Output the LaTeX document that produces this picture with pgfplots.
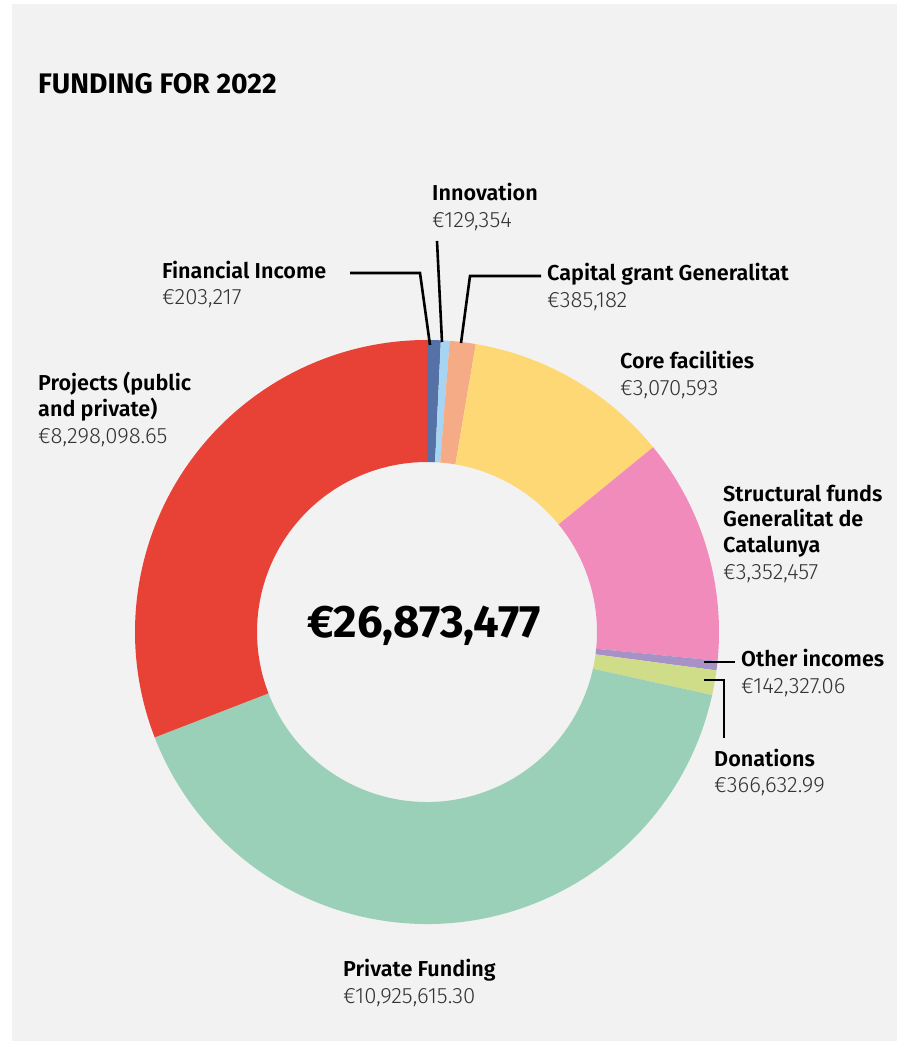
\documentclass[border=0pt,tikz]{standalone}
\usepackage{pgfplots}
\usepackage{pgfplotstable}
\pgfplotsset{compat=1.18}
\usepackage{fontspec}
\setmainfont{Fira Sans}
\newfontfamily\lightfont{Fira Sans Light}
\newfontfamily\semifont{Fira Sans SemiBold}

\definecolor{panel}{HTML}{F1F2F1}
\definecolor{c0}{HTML}{5571A5}% Financial Income
\definecolor{c1}{HTML}{A6D5F3}% Innovation
\definecolor{c2}{HTML}{F5AB85}% Capital grant
\definecolor{c3}{HTML}{FED874}% Core facilities
\definecolor{c4}{HTML}{F18BBB}% Structural funds
\definecolor{c5}{HTML}{A792C8}% Other incomes
\definecolor{c6}{HTML}{D0DD88}% Donations
\definecolor{c7}{HTML}{9BD0B8}% Private Funding
\definecolor{c8}{HTML}{E84237}% Projects

% slices clockwise from 12 o'clock
\pgfplotstableread[col sep=comma]{
source,value
Financial Income,203217
Innovation,129354
Capital grant Generalitat,385182
Core facilities,3070593
Structural funds,3352457
Other incomes,142327.06
Donations,366632.99
Private Funding,10925615.30
Projects,8298098.65
}\funding

% total and start/end angle of every slice
\gdef\total{0}%
\foreach \i in {0,...,8}{%
  \pgfplotstablegetelem{\i}{value}\of\funding
  \xdef\total{\fpeval{\total+\pgfplotsretval}}}%
\gdef\acc{90}%
\foreach \i in {0,...,8}{%
  \pgfplotstablegetelem{\i}{value}\of\funding
  \expandafter\xdef\csname as\i\endcsname{\acc}%
  \xdef\acc{\fpeval{\acc-360*\pgfplotsretval/\total}}%
  \expandafter\xdef\csname ae\i\endcsname{\acc}}%

\tikzset{
  lab/.style={anchor=base west, inner sep=0pt, text=black,
    font=\semifont\fontsize{21.6}{24}\selectfont},
  val/.style={anchor=base west, inner sep=0pt, text=black!80,
    font=\lightfont\fontsize{22.2}{24}\selectfont},
  lead/.style={line width=2.6pt, black}
}

\begin{document}%
\begin{tikzpicture}
\begin{axis}[x=1pt, y=1pt, xmin=0, xmax=896, ymin=-1043, ymax=0,
  scale only axis, hide axis, clip=false]
\coordinate (SW) at (axis cs:0,-1043);
\coordinate (NE) at (axis cs:896,0);
\fill[white] (axis cs:0,-1043) rectangle (axis cs:896,0);
\fill[panel] (axis cs:12,-1041) rectangle (axis cs:930,-4);

% donut
\pgfplotsinvokeforeach{0,...,8}{%
  \fill[c#1] ([shift={(\csname as#1\endcsname:292pt)}]axis cs:427,-632)
    arc[start angle=\csname as#1\endcsname, end angle=\csname ae#1\endcsname, radius=292pt]
    -- ([shift={(\csname ae#1\endcsname:170pt)}]axis cs:427,-632)
    arc[start angle=\csname ae#1\endcsname, end angle=\csname as#1\endcsname, radius=170pt]
    -- cycle;
}

% title and total
\node[anchor=base west, inner sep=0pt, font=\fontsize{28.3}{30}\selectfont\bfseries]
  at (axis cs:38,-94) {FUNDING FOR 2022};
\node[anchor=base, inner sep=0pt, font=\fontsize{45.5}{48}\selectfont\bfseries]
  at (axis cs:424,-638) {€26,873,477};

% leader lines
\draw[lead] (axis cs:350,-273) -- (axis cs:420,-273) -- (axis cs:430,-345);
\draw[lead] (axis cs:437,-241) -- (axis cs:442,-342);
\draw[lead] (axis cs:541,-276) -- (axis cs:470,-276) -- (axis cs:461,-343);
\draw[lead] (axis cs:704,-662) -- (axis cs:735,-662);
\draw[lead] (axis cs:704,-680) -- (axis cs:724,-680) -- (axis cs:724,-738);

% labels
\node[lab] at (axis cs:432,-201) {Innovation};
\node[val] at (axis cs:432,-228) {€129,354};
\node[lab] at (axis cs:162,-279) {Financial Income};
\node[val] at (axis cs:162,-305) {€203,217};
\node[lab] at (axis cs:547,-281) {Capital grant Generalitat};
\node[val] at (axis cs:547,-308) {€385,182};
\node[lab] at (axis cs:620,-369) {Core facilities};
\node[val] at (axis cs:620,-396) {€3,070,593};
\node[lab] at (axis cs:38,-391) {Projects (public};
\node[lab] at (axis cs:38,-417) {and private)};
\node[val] at (axis cs:38,-444) {€8,298,098.65};
\node[lab] at (axis cs:723,-502) {Structural funds};
\node[lab] at (axis cs:723,-527) {Generalitat de};
\node[lab] at (axis cs:723,-553) {Catalunya};
\node[val] at (axis cs:723,-580) {€3,352,457};
\node[lab] at (axis cs:741,-667) {Other incomes};
\node[val] at (axis cs:741,-694) {€142,327.06};
\node[lab] at (axis cs:714,-767) {Donations};
\node[val] at (axis cs:714,-793) {€366,632.99};
\node[lab] at (axis cs:343,-977) {Private Funding};
\node[val] at (axis cs:343,-1004) {€10,925,615.30};
\end{axis}
\pgfresetboundingbox
\path[use as bounding box] (SW) rectangle (NE);
\end{tikzpicture}%
\end{document}
